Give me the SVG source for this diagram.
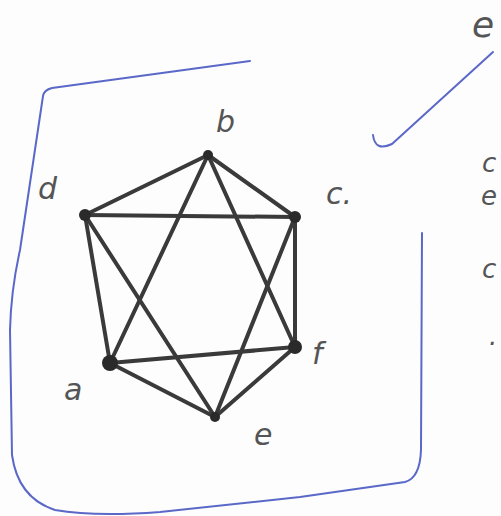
<svg xmlns="http://www.w3.org/2000/svg" width="501" height="516" viewBox="0 0 501 516">
<style>
.e{stroke:#3a3a3a;stroke-width:4;stroke-linecap:round;fill:none}
.n{fill:#2a2a2a}
.l{font-family:"DejaVu Sans",sans-serif;font-size:30px;fill:#555;font-style:italic}
.s{font-size:26px}
.b{stroke:#5a68c8;stroke-width:2;fill:none;stroke-linecap:round;stroke-linejoin:round}
</style>
<rect width="501" height="516" fill="#fdfdfd"/>
<g id="frame">
<path class="b" d="M250,61 L52,88 Q44,90 43,96 L20,250 Q11,290 10,330 L12,455 Q18,498 55,510 Q95,517 160,512 L300,497 L405,482 Q420,478 421,450 L422,233"/>
<path class="b" d="M373,135 Q375,152 392,144 L493,52"/>
</g>
<g id="connectors">
<line class="e" x1="208" y1="155" x2="85" y2="215"/>
<line class="e" x1="208" y1="155" x2="295" y2="217"/>
<line class="e" x1="208" y1="155" x2="110" y2="363"/>
<line class="e" x1="208" y1="155" x2="295" y2="347"/>
<line class="e" x1="85" y1="215" x2="295" y2="217"/>
<line class="e" x1="85" y1="215" x2="110" y2="363"/>
<line class="e" x1="85" y1="215" x2="215" y2="417"/>
<line class="e" x1="295" y1="217" x2="295" y2="347"/>
<line class="e" x1="295" y1="217" x2="215" y2="417"/>
<line class="e" x1="110" y1="363" x2="295" y2="347"/>
<line class="e" x1="110" y1="363" x2="215" y2="417"/>
<line class="e" x1="295" y1="347" x2="215" y2="417"/>
</g>
<g id="node-b"><circle class="n" cx="208" cy="155" r="5"/><text class="l" x="216" y="132">b</text></g>
<g id="node-d"><circle class="n" cx="85" cy="215" r="6"/><text class="l" x="38" y="199">d</text></g>
<g id="node-c"><circle class="n" cx="295" cy="217" r="6"/><text class="l" x="326" y="204">c.</text></g>
<g id="node-f"><circle class="n" cx="295" cy="347" r="7"/><text class="l" x="312" y="364">f</text></g>
<g id="node-a"><circle class="n" cx="110" cy="363" r="8"/><text class="l" x="64" y="400">a</text></g>
<g id="node-e"><circle class="n" cx="215" cy="417" r="5"/><text class="l" x="254" y="445">e</text></g>
<g id="side-text">
<text class="l" x="472" y="37" style="font-size:36px">e</text>
<text class="l s" x="482" y="172">c</text>
<text class="l s" x="481" y="205">e</text>
<text class="l s" x="482" y="278">c</text>
<text class="l s" x="489" y="345">.</text>
</g>
</svg>
